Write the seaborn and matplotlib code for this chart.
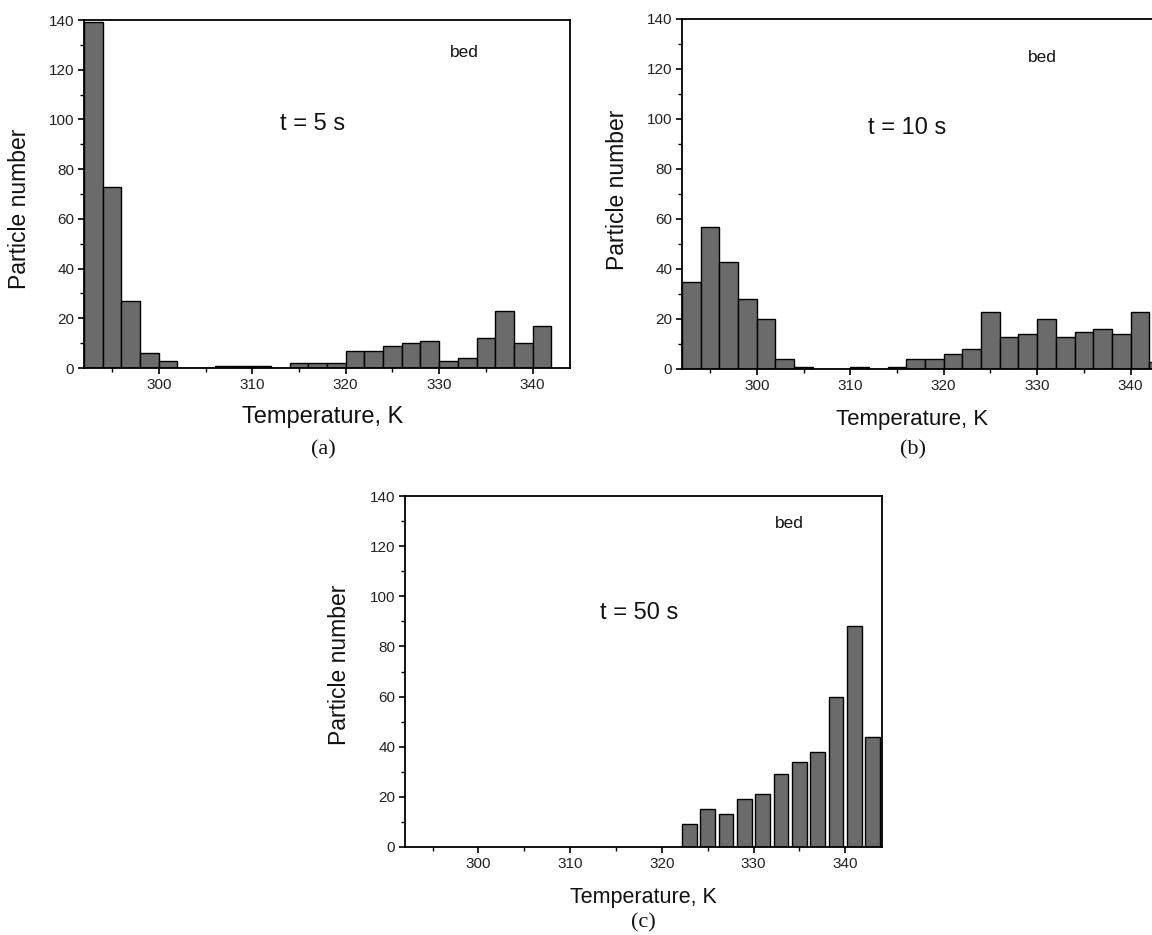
import numpy as np
import pandas as pd
import matplotlib
matplotlib.use("Agg")
import matplotlib.pyplot as plt
from matplotlib.ticker import MultipleLocator
import seaborn as sns

sns.set_theme(style="white")
plt.rcParams['font.family'] = ['Liberation Sans', 'DejaVu Sans']

# Data: particle counts per 2 K temperature bin (bin centres in K)
centers_a = [293, 295, 297, 299, 301, 303, 305, 307, 309, 311, 313, 315, 317,
             319, 321, 323, 325, 327, 329, 331, 333, 335, 337, 339, 341]
counts_a = [139, 73, 27, 6, 3, 0, 0, 1, 1, 1, 0, 2, 2,
            2, 7, 7, 9, 10, 11, 3, 4, 12, 23, 10, 17]

centers_b = [293, 295, 297, 299, 301, 303, 305, 307, 309, 311, 313, 315, 317,
             319, 321, 323, 325, 327, 329, 331, 333, 335, 337, 339, 341, 343]
counts_b = [35, 57, 43, 28, 20, 4, 1, 0, 0, 1, 0, 1, 4,
            4, 6, 8, 23, 13, 14, 20, 13, 15, 16, 14, 23, 3]

centers_c = [323, 325, 327, 329, 331, 333, 335, 337, 339, 341, 343]
counts_c = [9, 15, 13, 19, 21, 29, 34, 38, 60, 88, 44]

panel_times = ["t = 5 s", "t = 10 s", "t = 50 s"]
panel_letters = ["(a)", "(b)", "(c)"]
x_ticks = [300, 310, 320, 330, 340]

W, H = 1152, 935
fig = plt.figure(figsize=(W / 100, H / 100), dpi=100)

def px_axes(left, top, right, bottom):
    return fig.add_axes([left / W, 1 - bottom / H, (right - left) / W, (bottom - top) / H])

axes_spec = [
    (px_axes(84, 20, 570, 368), centers_a, counts_a, 1.0,
     (0.471, 0.701), (0.782, 0.908), (0.49, -0.141), 17, (20, 209), (323, 450)),
    (px_axes(682, 19, 1168, 369), centers_b, counts_b, 1.0,
     (0.463, 0.689), (0.741, 0.891), (0.473, -0.145), 16, (617, 190), (913, 450)),
    (px_axes(405, 496, 882, 847), centers_c, counts_c, 0.8,
     (0.49, 0.667), (0.805, 0.923), (0.5, -0.145), 15.5, (340, 665), (643, 923)),
]

for i, (ax, cen, cnt, shrink, tpos, bpos, xlpos, xlsize, ylpix, letpos) in enumerate(axes_spec):
    df = pd.DataFrame({"T": cen, "n": cnt})
    sns.histplot(data=df, x="T", weights="n", binwidth=2,
                 binrange=(min(cen) - 1, max(cen) + 1), shrink=shrink,
                 color="#6b6b6b", edgecolor="black", linewidth=1.0, alpha=1.0, ax=ax)
    ax.set_xlim(292, 344)
    ax.set_ylim(0, 140)
    ax.xaxis.set_major_locator(MultipleLocator(10))
    ax.xaxis.set_minor_locator(MultipleLocator(5))
    ax.yaxis.set_major_locator(MultipleLocator(20))
    ax.yaxis.set_minor_locator(MultipleLocator(10))
    ax.set_xticks(x_ticks)
    ax.tick_params(axis="both", which="major", direction="out", length=4, width=1.2,
                   labelsize=11, color="black", labelcolor="#222222", pad=3,
                   bottom=True, left=True)
    ax.tick_params(axis="both", which="minor", direction="out", length=3, width=1.0,
                   color="black", bottom=True, left=True)
    for s in ax.spines.values():
        s.set_color("black")
        s.set_linewidth(1.3)
    ax.set_xlabel("Temperature, K", fontsize=xlsize, color="#111111", va="center")
    ax.set_ylabel("")
    ax.xaxis.set_label_coords(*xlpos)
    fig.text(ylpix[0] / W, 1 - ylpix[1] / H, "Particle number", rotation=90,
             fontsize=16.5, ha="center", va="center", color="#111111")
    ax.text(*tpos, panel_times[i], transform=ax.transAxes, fontsize=17,
            ha="center", va="center", color="#111111")
    ax.text(*bpos, "bed", transform=ax.transAxes, fontsize=12.5,
            ha="center", va="center", color="#111111")
    fig.text(letpos[0] / W, 1 - letpos[1] / H, panel_letters[i], fontsize=16,
             family="Liberation Serif", ha="center", va="center", color="#111111")

fig.savefig("out.png", dpi=100, facecolor="white")
